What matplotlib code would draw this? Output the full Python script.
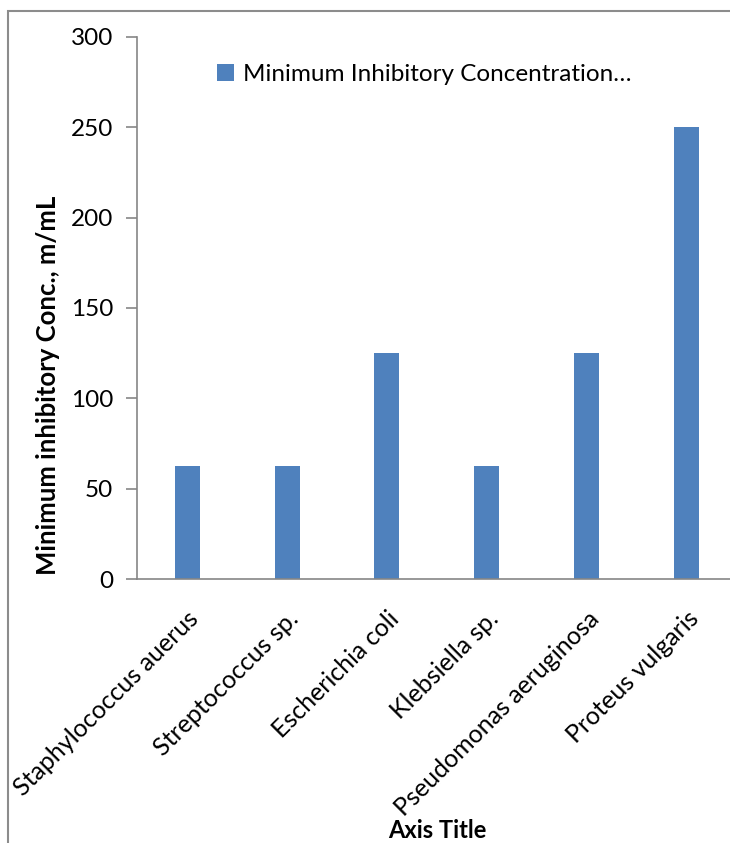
import matplotlib.pyplot as plt
from matplotlib.patches import Rectangle

categories = ["Staphylococcus auerus", "Streptococcus sp.", "Escherichia coli",
              "Klebsiella sp.", "Pseudomonas aeruginosa", "Proteus vulgaris"]
mic_values = [62.5, 62.5, 125, 62.5, 125, 250]
y_ticks = [0, 50, 100, 150, 200, 250, 300]
series_name = "Minimum Inhibitory Concentration\u2026"

plt.rcParams["font.family"] = ["Lato", "DejaVu Sans"]

W, H = 730, 843
fig = plt.figure(figsize=(W / 100, H / 100), dpi=100)

# chart area outline (only left and top edges visible in the crop)
fig.patches.append(Rectangle((8 / W, -0.1), 2.0, 1.1 - 11 / H, transform=fig.transFigure,
                             fill=False, edgecolor="#8c8c8c", linewidth=1.5))

left, right, top, bottom = 137, 737, 37, 579
ax = fig.add_axes([left / W, 1 - bottom / H, (right - left) / W, (bottom - top) / H])

x = range(len(categories))
ax.bar(x, mic_values, width=0.25, color="#4f81bd", label=series_name)

ax.set_xlim(-0.5, len(categories) - 0.5)
ax.set_ylim(0, 300)
ax.set_yticks(y_ticks)
ax.set_xticks(list(x))
ax.set_xticklabels(categories, rotation=45, ha="right", va="top",
                   rotation_mode="anchor", fontsize=18)
ax.tick_params(axis="y", labelsize=17.5, length=8, color="#868686", width=1.2, pad=9)
ax.tick_params(axis="x", length=0, pad=20)

for s in ["top", "right"]:
    ax.spines[s].set_visible(False)
for s in ["left", "bottom"]:
    ax.spines[s].set_color("#868686")
    ax.spines[s].set_linewidth(1.2)

ax.set_ylabel("Minimum inhibitory Conc., m/mL", fontsize=18.5, fontweight="bold",
              va="center")
ax.yaxis.set_label_coords((48 - left) / (right - left), (bottom - 385) / (bottom - top))
fig.text(437 / W, 1 - 830 / H, "Axis Title", fontsize=17, fontweight="bold",
         ha="center", va="center")

ax.legend(loc="upper left", bbox_to_anchor=(70 / 600, 1 - 17 / 542), frameon=False,
          fontsize=17.5, handlelength=0.7, handleheight=0.7, handletextpad=0.4,
          borderaxespad=0)

fig.savefig("out.png", dpi=100)
